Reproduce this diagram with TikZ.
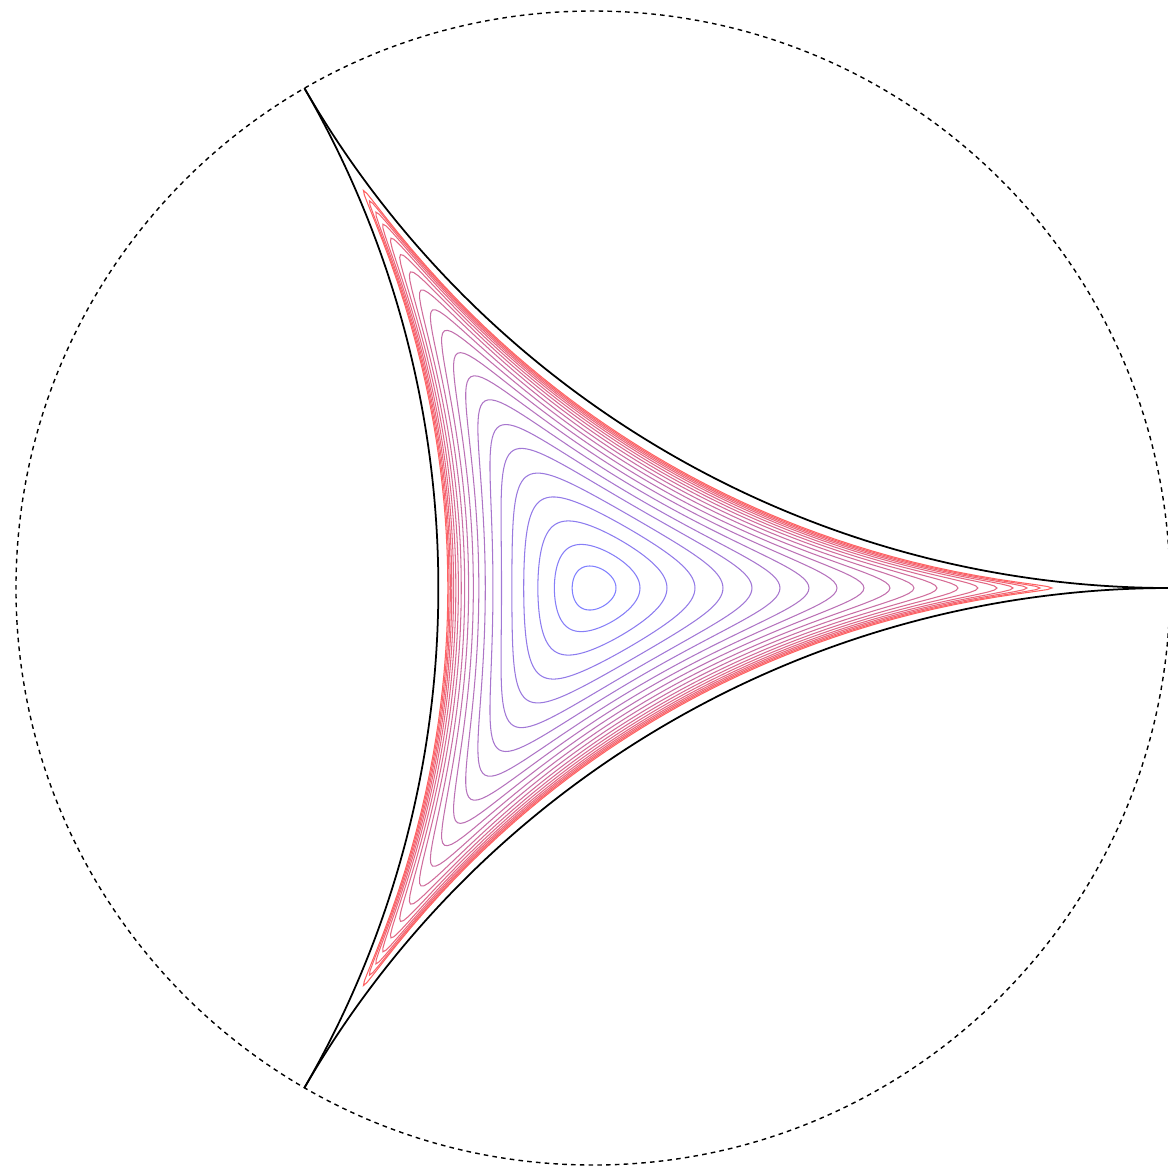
\documentclass[tikz,border=0pt]{standalone}
\begin{document}
\begin{tikzpicture}[scale=5.77,
      rim/.style={dash pattern=on 1.3pt off 1.2pt, line width=0.4pt},
      side/.style={line width=0.5pt},
      lev/.style={line width=0.3pt}]
    \definecolor{inner}{RGB}{105,105,255}
    \definecolor{outer}{RGB}{255,70,70}
    \useasboundingbox (-1.0277,-1.0121) rectangle (0.9965,1.0191);
    % level curves, given by where they cross the ray to the right cusp (px)
    \foreach \d [count=\k] in {23,47,74,102,130,159,187,216,244,271,297,321,344,365,385,404,420,434,447,459} {
      \edef\rmax{\fpeval{2*(\d/577)/(1+(\d/577)^2)}}
      \edef\lev{\fpeval{sqrt(1-\rmax)*(1+2*\rmax)/(1+\rmax)^1.5}}
      \xdef\lo{0}\xdef\hi{0.5}
      \foreach \i in {1,...,36} {
        \edef\m{\fpeval{(\lo+\hi)/2}}
        \ifnum\fpeval{(1-3*\m^2-2*\m^3)/(1-\m^2)^1.5>\lev ? 1 : 0}=1
          \xdef\lo{\m}\else\xdef\hi{\m}\fi
      }
      \edef\rmin{\lo}
      \xdef\pts{(0:\fpeval{round(\rmax/(1+sqrt(1-\rmax^2)),5)})}
      \foreach \j in {0,...,5} {
        \foreach \i in {0,...,24} {
          \ifodd\j \edef\s{\fpeval{1-\i/24}}\else\edef\s{\fpeval{\i/24}}\fi
          \edef\rr{\fpeval{\rmax-(\rmax-\rmin)*(1-cosd(180*\s))/2}}
          \edef\tht{\fpeval{acosd(max(-1,min(1,(\lev*(1-\rr^2)^1.5-1+3*\rr^2)/(2*\rr^3))))/3}}
          \ifodd\j \edef\ang{\fpeval{round(60*\j+60-\tht,4)}}\else\edef\ang{\fpeval{round(60*\j+\tht,4)}}\fi
          \edef\rad{\fpeval{round(\rr/(1+sqrt(1-\rr^2)),5)}}
          \xdef\pts{\pts -- (\ang:\rad)}
        }
      }
      \pgfmathtruncatemacro\p{(\k-1)*100/19}
      \edef\cmd{\noexpand\draw[lev, outer!\p!inner!85!white] \pts -- cycle;}
      \cmd
    }
    \foreach \a in {60,180,300}
      \draw[side] (\a:2) ++(\a+150:1.7320508) arc[start angle=\a+150, end angle=\a+210, radius=1.7320508];
    \draw[rim] (0,0) circle[radius=1];
  \end{tikzpicture}
\end{document}
